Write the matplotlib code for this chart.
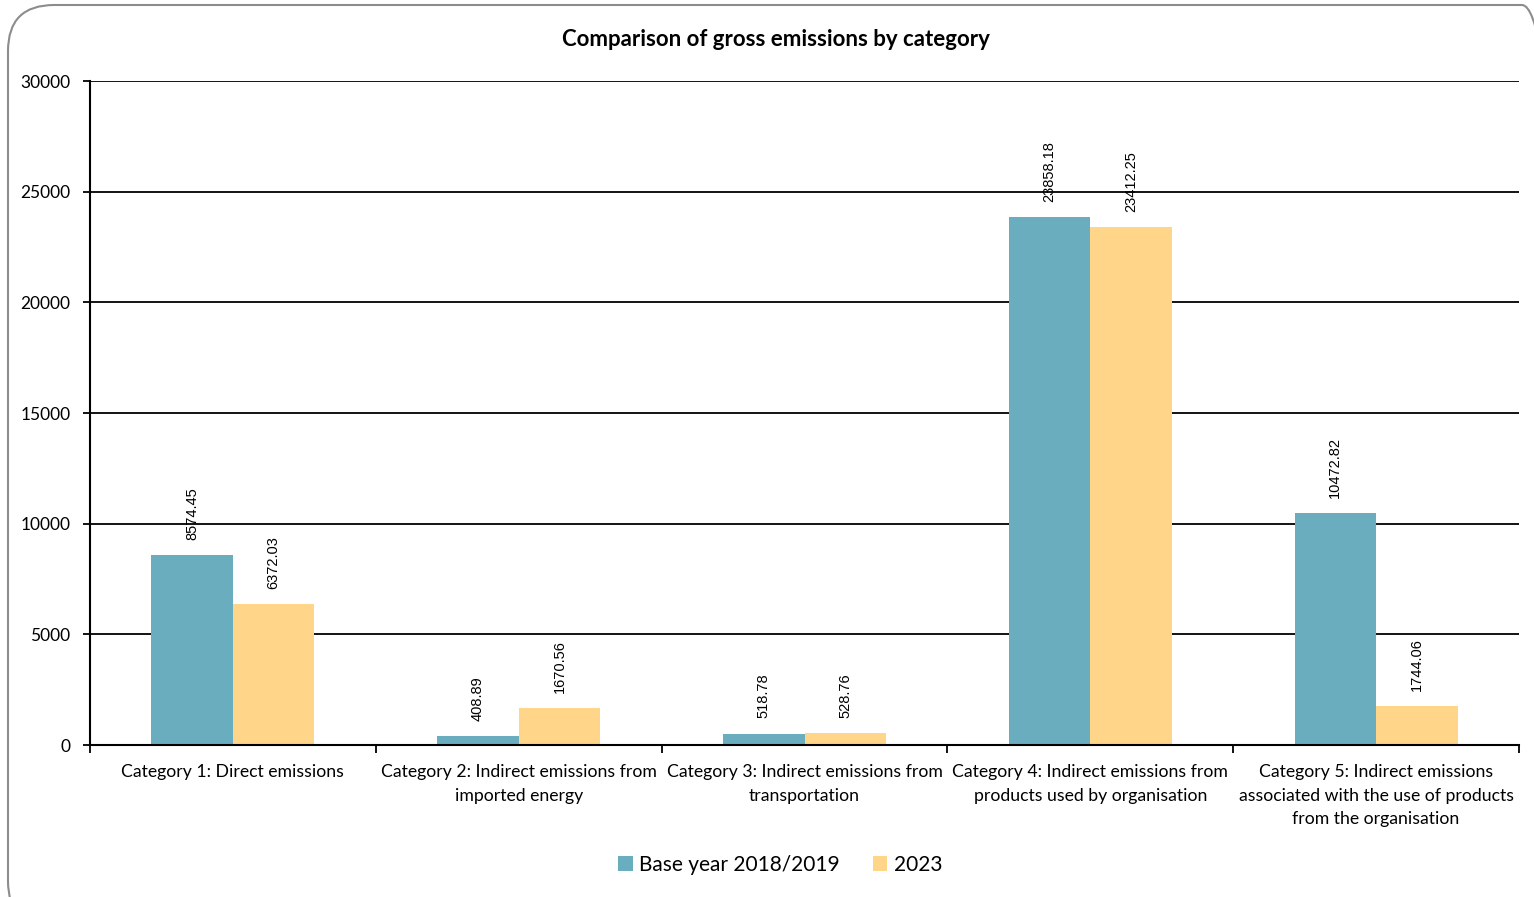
import matplotlib
matplotlib.use("Agg")
import matplotlib.pyplot as plt
from matplotlib.patches import FancyBboxPatch, Patch
from matplotlib.ticker import FixedLocator, NullFormatter
import numpy as np

categories = [
    "Category 1: Direct emissions",
    "Category 2: Indirect emissions from\nimported energy",
    "Category 3: Indirect emissions from\ntransportation",
    "Category 4: Indirect emissions from\nproducts used by organisation",
    "Category 5: Indirect emissions\nassociated with the use of products\nfrom the organisation",
]
base_year = [8574.45, 408.89, 518.78, 23858.18, 10472.82]
year_2023 = [6372.03, 1670.56, 528.76, 23412.25, 1744.06]
series_names = ["Base year 2018/2019", "2023"]
y_ticks = [0, 5000, 10000, 15000, 20000, 25000, 30000]

blue = "#6AADBE"
yellow = "#FFD58A"
label_font = ["Lato", "DejaVu Sans"]
value_font = ["Liberation Sans", "DejaVu Sans"]

fig = plt.figure(figsize=(15.34, 8.97), dpi=100)

# rounded outer frame
frame = FancyBboxPatch((8 / 1534, -30 / 897), 1560 / 1534, 922 / 897,
                       boxstyle="round,pad=0,rounding_size=0.03",
                       transform=fig.transFigure, facecolor="none",
                       edgecolor="#8c8c8c", linewidth=1.5, zorder=-1,
                       mutation_aspect=1534 / 897)
fig.patches.append(frame)

ax = fig.add_axes([90 / 1534, 1 - 745 / 897, 1429 / 1534, 664 / 897])
ax.set_facecolor("none")

x = np.arange(len(categories))
w = 0.285
b1 = ax.bar(x - w / 2, base_year, w, color=blue, zorder=3)
b2 = ax.bar(x + w / 2, year_2023, w, color=yellow, zorder=3)

for bars, vals in ((b1, base_year), (b2, year_2023)):
    for rect, v in zip(bars, vals):
        ax.annotate(f"{v:.2f}", (rect.get_x() + rect.get_width() / 2, v),
                    xytext=(0, 11), textcoords="offset points",
                    rotation=90, ha="center", va="bottom",
                    fontsize=10.5, family=value_font, zorder=4)

ax.set_xlim(-0.5, len(categories) - 0.5)
ax.set_ylim(0, 30000)
ax.set_yticks(y_ticks)
ax.set_yticklabels([str(t) for t in y_ticks], family=label_font, fontsize=12.5)
ax.yaxis.grid(True, color="black", linewidth=1.3, zorder=1)
ax.tick_params(axis="y", length=5, width=1.3, direction="out", pad=9)

ax.set_xticks(x)
ax.set_xticklabels(categories, family=label_font, fontsize=12.7,
                   linespacing=1.55)
ax.tick_params(axis="x", which="major", length=0, pad=14)
ax.xaxis.set_minor_locator(FixedLocator(np.arange(-0.5, len(categories), 1.0)))
ax.xaxis.set_minor_formatter(NullFormatter())
ax.tick_params(axis="x", which="minor", length=6, width=1.3, direction="out")

for s in ("top", "right"):
    ax.spines[s].set_visible(False)
for s in ("left", "bottom"):
    ax.spines[s].set_linewidth(1.5)
    ax.spines[s].set_zorder(5)

fig.text(776 / 1534, 1 - 39 / 897, "Comparison of gross emissions by category",
         ha="center", va="center", fontsize=16, fontweight="bold",
         family=label_font)

handles = [Patch(facecolor=blue, label=series_names[0]),
           Patch(facecolor=yellow, label=series_names[1])]
fig.legend(handles=handles, loc="center", bbox_to_anchor=(780 / 1534, 1 - 865 / 897),
           ncol=2, frameon=False, prop={"family": label_font, "size": 15},
           handlelength=0.7, handleheight=0.7, handletextpad=0.3,
           columnspacing=1.6)

fig.savefig("out.png", dpi=100)
